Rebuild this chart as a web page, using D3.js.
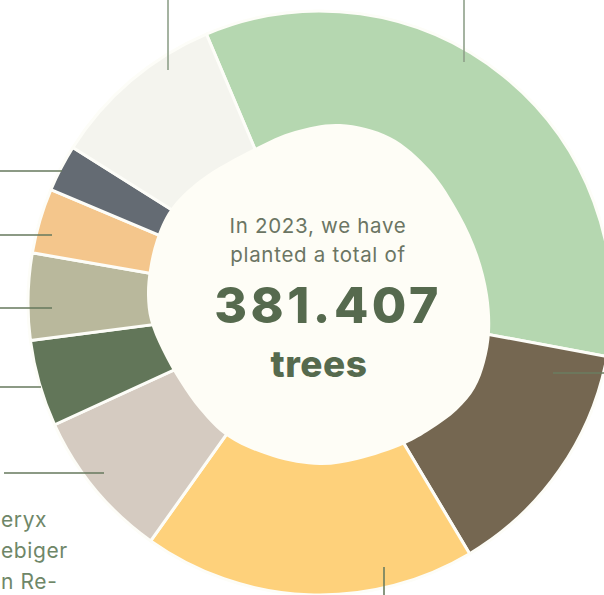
<!DOCTYPE html>
<html>
<head>
<meta charset="utf-8">
<script src="https://cdn.jsdelivr.net/npm/d3@7"></script>
<style>
  html, body { margin: 0; padding: 0; background: #ffffff; }
  svg { display: block; }
  text { font-family: "Inter", "Open Sans", sans-serif; }
</style>
</head>
<body>
<svg id="chart" width="604" height="595"></svg>
<script>
// Trees planted in 2023, by species group (clockwise from the top)
const categories = [
  "Group 1", "Group 2", "Group 3", "Group 4", "Group 5",
  "Group 6", "Group 7", "Group 8", "Group 9"
];
const treeCounts = [130807, 51500, 70200, 31700, 18300, 18300, 13700, 9900, 37000];
const sliceColors = [
  "#b5d7b0", "#756751", "#fed17b", "#d5cbc1", "#627659",
  "#b9b89c", "#f4c68c", "#646b73", "#f4f4ee"
];
// Visible fragments of the side labels
const sideLabels = ["eryx", "ebiger", "n Re-"];
const introLines = ["In 2023, we have", "planted a total of"];
const unitLabel = "trees";

// ---- layout ----
const W = 604, H = 595;
const cx = 320, cy = 303;
const outerR = 292, innerR = 110;
const startDeg = -22.9;

const svg = d3.select("#chart");
const g = svg.append("g").attr("transform", `translate(${cx},${cy})`);

const pie = d3.pie()
  .sort(null)
  .value(d => d.value)
  .startAngle(startDeg * Math.PI / 180)
  .endAngle(startDeg * Math.PI / 180 + 2 * Math.PI);

const data = categories.map((c, i) => ({ name: c, value: treeCounts[i], color: sliceColors[i] }));
const arcs = pie(data);
const arc = d3.arc().innerRadius(innerR).outerRadius(outerR);

g.selectAll("path.slice")
  .data(arcs)
  .join("path")
  .attr("class", "slice")
  .attr("d", arc)
  .attr("fill", d => d.data.color)
  .attr("stroke", "#fdfdf8")
  .attr("stroke-width", 3)
  .attr("stroke-linejoin", "round");

// Organic centre shape (offsets from the ring centre)
const blobPts = [
  [20,-179],[70,-166],[110,-133],[140,-88],[158,-48],[168,-8],[170,29],[165,59],
  [155,85],[137,107],[110,127],[85,141],[37,157],[0,162],[-47,154],[-92,134],
  [-120,107],[-140,79],[-158,47],[-170,17],[-173,-8],[-171,-33],[-164,-63],
  [-150,-93],[-120,-123],[-65,-155],[-25,-172]
];
g.append("path")
  .attr("d", d3.line().curve(d3.curveCatmullRomClosed.alpha(0.5))(blobPts))
  .attr("fill", "#fefdf6");

// Leader lines (relative to ring centre)
const leaders = [
  [[144, -303], [144, -241]],
  [[233, 70], [290, 70]],
  [[64, 264], [64, 292]],
  [[-316, 170], [-216, 170]],
  [[-320, 84], [-279, 84]],
  [[-320, 5], [-268, 5]],
  [[-320, -68], [-268, -68]],
  [[-320, -132], [-258, -132]],
  [[-152, -303], [-152, -233]]
];
const leaderColor = ["#8fa08a", "#6b7d60", "#6b7d60", "#66785c", "#66785c", "#66785c", "#66785c", "#66785c", "#8fa08a"];
g.selectAll("line.leader")
  .data(leaders)
  .join("line")
  .attr("class", "leader")
  .attr("x1", d => d[0][0]).attr("y1", d => d[0][1])
  .attr("x2", d => d[1][0]).attr("y2", d => d[1][1])
  .attr("stroke", (d, i) => leaderColor[i])
  .attr("stroke-width", 1.6);

// Side labels
svg.selectAll("text.side")
  .data(sideLabels)
  .join("text")
  .attr("class", "side")
  .attr("x", 1)
  .attr("y", (d, i) => 527 + i * 31)
  .attr("font-size", 21)
  .attr("letter-spacing", 0.6)
  .attr("fill", "#6f8768")
  .text(d => d);

// Centre text
const total = d3.sum(treeCounts);
const fmt = d3.formatLocale({ decimal: ",", thousands: ".", grouping: [3], currency: ["", ""] }).format(",d");

g.selectAll("text.intro")
  .data(introLines)
  .join("text")
  .attr("class", "intro")
  .attr("x", -2)
  .attr("y", (d, i) => -70 + i * 29)
  .attr("text-anchor", "middle")
  .attr("font-size", 20.5)
  .attr("letter-spacing", 0.7)
  .attr("fill", "#6b7563")
  .text(d => d);

g.append("text")
  .attr("x", 8)
  .attr("y", 20)
  .attr("text-anchor", "middle")
  .attr("font-size", 50)
  .attr("font-weight", 800)
  .attr("letter-spacing", 3.5)
  .attr("fill", "#566a4e")
  .text(fmt(total));

g.append("text")
  .attr("x", -1)
  .attr("y", 74)
  .attr("text-anchor", "middle")
  .attr("font-size", 37)
  .attr("font-weight", 800)
  .attr("letter-spacing", 0.5)
  .attr("fill", "#566a4e")
  .text(unitLabel);
</script>
</body>
</html>
